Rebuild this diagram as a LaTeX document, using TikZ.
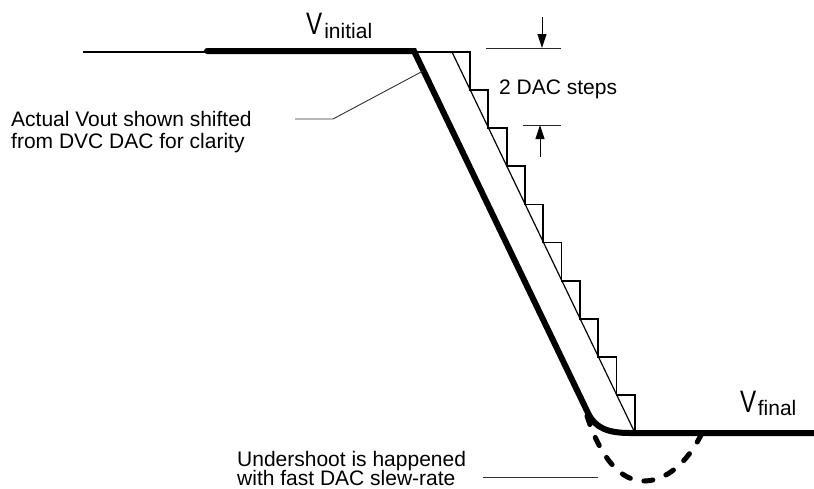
\documentclass[tikz,border=0pt]{standalone}
\usepackage{fontspec}
\setmainfont{Liberation Sans}
\usetikzlibrary{arrows.meta}
\begin{document}
\begin{tikzpicture}[x=1pt,y=-1pt,
  lbl/.style={inner sep=0pt, anchor=base west, font=\fontsize{21}{22}\selectfont},
  dacline/.style={line width=1.8pt, line join=miter},
  diag/.style={line width=1.2pt},
  vout/.style={line width=6pt, line cap=round, line join=miter},
  undershoot/.style={line width=5pt, line cap=round, dash pattern=on 9pt off 14pt},
  leader/.style={line width=0.9pt, draw=black!80},
  dim/.style={line width=0.9pt, draw=black!85},
  dimarrow/.style={line width=1pt, -{Triangle[length=14pt,width=9pt]}},
]
\useasboundingbox (0,0) rectangle (814,488);

% coordinates
\coordinate (dacstart) at (83,52);
\coordinate (dacfirst) at (470,52);
\coordinate (dacend) at (816,433);
\coordinate (diagtop) at (452,52);
\coordinate (diagbot) at (635,433);
\coordinate (vstart) at (207,51);
\coordinate (vcorner) at (414,51);
\coordinate (vknee) at (588,413);
\coordinate (vflat) at (630,433);
\coordinate (vend) at (818,433);
\coordinate (ustart) at (587,416);
\coordinate (ubot) at (645,481);
\coordinate (uend) at (702,433);

% DAC staircase
\draw[dacline] (dacstart) -- (dacfirst)
  foreach \k in {1,...,9} { -- ++(0,38.1) -- ++(18.3,0) }
  |- (dacend);
\draw[diag] (diagtop) -- (diagbot);

% Actual Vout
\draw[vout] (vstart) -- (vcorner) -- (vknee)
  .. controls (595,428) and (608,433) .. (vflat) -- (vend);

% undershoot
\draw[undershoot] (ustart) .. controls (600,456) and (620,482) .. (ubot)
  .. controls (671,480) and (691,456) .. (uend);

% labels
\node[lbl] (vinit) at (306,34) {{\fontsize{31}{31}\selectfont\scalebox{0.78}[1]{V}}\kern2pt\raisebox{-4pt}{initial}};
\node[lbl] (vfinal) at (740,412) {{\fontsize{31}{31}\selectfont\scalebox{0.78}[1]{V}}\kern1.5pt\raisebox{-3pt}{final}};
\node[lbl] (note1) at (11,126) {\begin{tabular}[t]{@{}l@{}}Actual Vout shown shifted\\from DVC DAC for clarity\end{tabular}};
\node[lbl] (steps) at (499,94) {2 DAC steps};
\node[lbl] (note2) at (237,466) {\begin{tabular}[t]{@{}l@{}}Undershoot is happened\\[-2.8pt]with fast DAC slew-rate\end{tabular}};

% leader lines
\coordinate (l1a) at (295,119);
\coordinate (l1b) at (333,119);
\coordinate (l1c) at (423,71);
\draw[leader] (l1a) -- (l1b) -- (l1c);
\coordinate (l2a) at (483,477);
\coordinate (l2b) at (598,477);
\draw[leader] (l2a) -- (l2b);

% dimension
\coordinate (d1a) at (486,48);
\coordinate (d1b) at (561,48);
\coordinate (a1s) at (542,17);
\coordinate (a1e) at (542,48);
\coordinate (d2a) at (523,125);
\coordinate (d2b) at (561,125);
\coordinate (a2s) at (540,157);
\coordinate (a2e) at (540,125);
\draw[dim] (d1a) -- (d1b);
\draw[dim] (d2a) -- (d2b);
\draw[dimarrow] (a1s) -- (a1e);
\draw[dimarrow] (a2s) -- (a2e);
\end{tikzpicture}
\end{document}
